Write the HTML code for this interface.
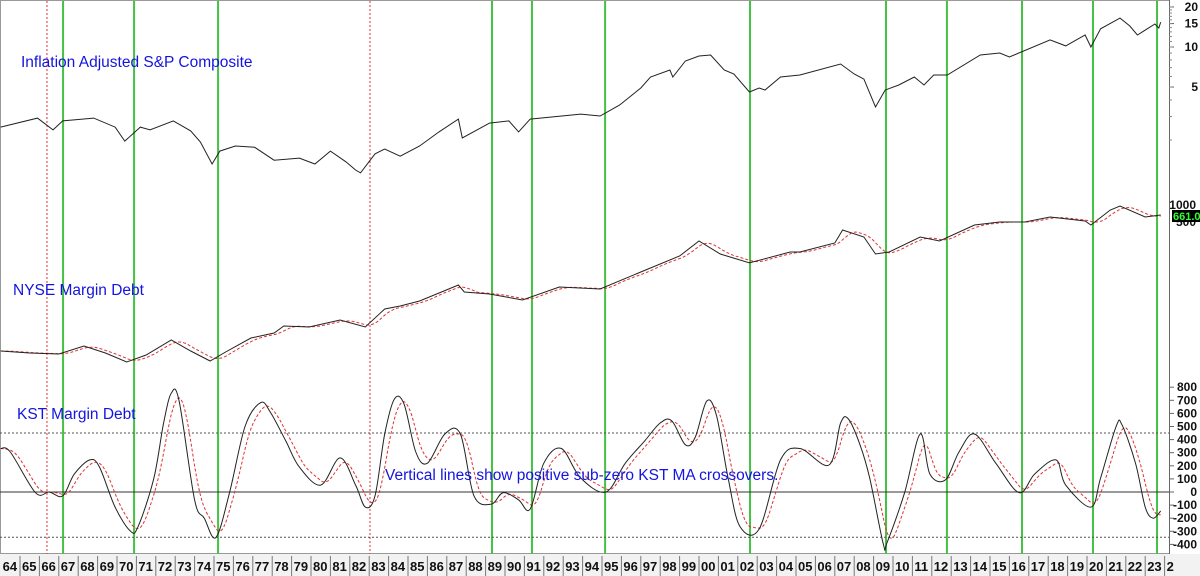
<!DOCTYPE html>
<html><head><meta charset="utf-8"><style>
body{margin:0;background:#fff;}
svg{display:block;font-family:"Liberation Sans",sans-serif;}
</style></head><body>
<svg id="c" width="1200" height="576">
<rect x="0" y="0" width="1200" height="576" fill="#fff"/>
<rect x="0.5" y="0.5" width="1169" height="553" fill="none" stroke="#999"/>
<rect x="0" y="554" width="1200" height="22" fill="#f2f2f2"/>
<g id="vl"></g><g id="ax"></g><g id="series"></g>
<text x="21" y="67" font-size="15.5" fill="#1414e0">Inflation Adjusted S&amp;P Composite</text>
<text x="13" y="295" font-size="15.5" fill="#1414e0">NYSE Margin Debt</text>
<text x="17" y="419" font-size="15.5" fill="#1414e0">KST Margin Debt</text>
<text x="385" y="480" font-size="15.5" fill="#1414e0">Vertical lines show positive sub-zero KST MA crossovers.</text>
</svg>
<script>
const spT=[1964,1965.9,1966.7,1967.2,1968.8,1969.9,1970.4,1971.2,1971.7,1972.9,1973.8,1974.3,1974.9,1975.3,1976.1,1977.1,1978.1,1979.4,1980.2,1981,1981.8,1982.3,1982.55,1983.3,1983.8,1984.6,1985.6,1986.6,1987.6,1987.8,1989.2,1990.2,1990.7,1991.3,1993.9,1994.9,1995.9,1997,1997.5,1998.5,1998.65,1999.3,2000,2000.6,2001.3,2001.8,2002.6,2003.1,2003.4,2004.2,2005.2,2007.3,2008,2008.5,2009.1,2009.6,2010.3,2011.1,2011.6,2012.1,2012.8,2014.5,2015.5,2016,2018.1,2018.9,2019.9,2020.2,2020.7,2021.7,2022.2,2022.6,2023.5,2023.7,2023.8];
const spV=[2.50,2.92,2.38,2.78,2.92,2.50,1.96,2.50,2.38,2.78,2.34,1.93,1.32,1.65,1.80,1.76,1.41,1.46,1.32,1.65,1.37,1.19,1.13,1.57,1.71,1.51,1.80,2.30,2.87,2.07,2.68,2.78,2.30,2.87,3.13,3.03,3.66,4.92,5.95,6.72,5.95,7.85,8.56,8.71,6.72,6.27,4.59,4.92,4.75,5.95,6.16,7.45,6.27,5.74,3.54,4.75,5.18,5.95,5.18,6.16,6.16,8.71,9.02,8.41,11.3,10.2,12.3,10,13.7,16.5,14.4,12.3,14.9,13.9,15.4];
const mdT=[1964,1965.5,1967,1968.3,1969.4,1970.5,1971.5,1972.8,1973.8,1974.8,1975.6,1976.9,1978.1,1978.6,1979.9,1981.5,1982.8,1983.8,1984.6,1985.6,1987.6,1987.9,1989.2,1990.9,1992.8,1994.9,1997,1999,2000,2001.1,2002.6,2004.7,2005.2,2007,2007.4,2008.5,2009.1,2009.8,2011.4,2012.4,2014.2,2015.5,2016.8,2018.1,2019.9,2020.2,2021.2,2021.7,2023,2023.8];
const mdV=[5.35,4.98,4.81,6.38,4.98,3.62,4.64,7.89,5.35,3.75,5.16,8.48,10.1,12.96,12.5,16.0,12.5,23.7,26.3,31.4,55.4,43.2,40.3,32.5,51.6,48.1,87.7,154.7,263,166,121,178,178,245,389,303,166,178,303,263,464,516,516,615,535,464,789,909,615,661];
const kT=[1964,1964.5,1965.8,1966.5,1967.2,1967.8,1968.6,1969.1,1969.9,1970.7,1971.1,1971.9,1972.4,1972.8,1973.2,1974,1974.5,1975.1,1975.8,1976.6,1977.4,1977.9,1978.7,1979.4,1980.5,1981.5,1982.3,1982.8,1983.3,1983.8,1984.3,1984.8,1985.4,1986,1986.9,1987.7,1988.4,1989.3,1989.9,1990.7,1991.3,1992,1992.9,1993.9,1995.2,1996.2,1997.2,1998,1998.6,1999.3,1999.8,2000.4,2000.9,2001.5,2002.1,2003.1,2004.2,2005.2,2006.7,2007.3,2007.7,2008.3,2008.8,2009.5,2009.7,2010.6,2011.4,2011.9,2012.7,2013.4,2014.2,2015.3,2016.5,2017.3,2018.4,2018.9,2020.2,2020.7,2021.5,2021.8,2022.5,2023,2023.4,2023.8];
const kV=[332,305,-5,0,-30,137,245,190,-115,-300,-260,107,527,755,695,-60,-200,-347,-5,500,682,610,390,190,53,260,53,-115,-30,443,710,670,305,220,443,443,-30,-92,-5,-60,-130,220,332,107,0,220,390,527,543,360,416,695,584,107,-260,-283,245,332,206,527,557,360,107,-397,-383,-5,443,137,92,305,443,220,-5,137,245,53,-115,107,500,514,220,-115,-200,-145];
const greenYears=[1967.22,1970.88,1975.21,1989.33,1991.39,1995.16,2002.63,2009.64,2012.78,2016.65,2020.31,2023.61];
const redYears=[1966.39,1983.04];
const yearLabels=["64","65","66","67","68","69","70","71","72","73","74","75","76","77","78","79","80","81","82","83","84","85","86","87","88","89","90","91","92","93","94","95","96","97","98","99","00","01","02","03","04","05","06","07","08","09","10","11","12","13","14","15","16","17","18","19","20","21","22","23","2"];
const spTicks=[20,15,10,5];
const mdTicks=[1000,500];
const kTicks=[800,700,600,500,400,300,200,100,0,-100,-200,-300,-400];
const kBands=[450,-345];

const NS="http://www.w3.org/2000/svg";
const X=t=>0.6+(t-1964)*19.4;
const Ysp=v=>47-133*Math.log10(v/10);
const Ymd=v=>215-65*Math.log10(v/661);
const Yk=v=>492-0.131*v;
function mk(tag,attrs,parent,text){const e=document.createElementNS(NS,tag);for(const k in attrs)e.setAttribute(k,attrs[k]);if(text!==undefined)e.textContent=text;parent.appendChild(e);return e;}
const vl=document.getElementById('vl'),ax=document.getElementById('ax'),sr=document.getElementById('series');
function interp(T,V,t){if(t<=T[0])return V[0];for(let i=1;i<T.length;i++){if(t<=T[i]){const f=(t-T[i-1])/(T[i]-T[i-1]);return V[i-1]+f*(V[i]-V[i-1]);}}return V[V.length-1];}
function ma(T,V,win,logv){const out=[];for(let t=T[0];t<=T[T.length-1];t+=0.05){let s=0,n=0;for(let u=t-win;u<=t;u+=0.05){let v=interp(T,V,Math.max(u,T[0]));s+=logv?Math.log(v):v;n++;}out.push([t,logv?Math.exp(s/n):s/n]);}return out;}
function smoothPath(pts){let d="M"+pts[0][0].toFixed(1)+","+pts[0][1].toFixed(1);for(let i=0;i<pts.length-1;i++){const p0=pts[i-1]||pts[i],p1=pts[i],p2=pts[i+1],p3=pts[i+2]||p2;const c1=[p1[0]+(p2[0]-p0[0])/6,p1[1]+(p2[1]-p0[1])/6],c2=[p2[0]-(p3[0]-p1[0])/6,p2[1]-(p3[1]-p1[1])/6];d+=`C${c1[0].toFixed(1)},${c1[1].toFixed(1)} ${c2[0].toFixed(1)},${c2[1].toFixed(1)} ${p2[0].toFixed(1)},${p2[1].toFixed(1)}`;}return d;}

redYears.forEach(t=>{const l=mk('line',{x1:X(t),x2:X(t),y1:1,y2:554,stroke:'#e03030','stroke-width':1,'stroke-dasharray':'2,2'},vl);

});
greenYears.forEach(t=>{const l=mk('line',{x1:X(t),x2:X(t),y1:1,y2:554,stroke:'#44c244','stroke-width':2},vl);

});

mk('line',{x1:1169.5,x2:1169.5,y1:0,y2:554,stroke:'#666'},ax);
spTicks.forEach(v=>{const y=Ysp(v);mk('line',{x1:1169,x2:1174,y1:y,y2:y,stroke:'#666'},ax);const t=mk('text',{x:1198,y:y+4,'text-anchor':'end','font-size':12,'font-weight':'bold',fill:'#111'},ax,String(v));

});
for(let v=2;v<=20;v+=1){const y=Ysp(v);if(y>0)mk('line',{x1:1169,x2:1172,y1:y,y2:y,stroke:'#888'},ax);}
const mdTickY=[209,226];
mdTicks.forEach((v,i)=>{const t=mk('text',{x:1196,y:mdTickY[i],'text-anchor':'end','font-size':12,'font-weight':'bold',fill:'#111'},ax,String(v));

});
const lb=mk('rect',{x:1172,y:210,width:28,height:12,fill:'#000'},ax);


mk('text',{x:1173,y:220,'font-size':11,'font-weight':'bold',fill:'#3f3'},ax,'661.00');
kTicks.forEach(v=>{const y=Yk(v);mk('line',{x1:1169,x2:1174,y1:y,y2:y,stroke:'#666'},ax);const t=mk('text',{x:1197,y:y+4,'text-anchor':'end','font-size':12,'font-weight':'bold',fill:'#111'},ax,String(v));

});
kBands.forEach(v=>{const l=mk('line',{x1:0,x2:1169,y1:Yk(v),y2:Yk(v),stroke:'#555','stroke-dasharray':'2,2'},ax);

});
const z=mk('line',{x1:0,x2:1169,y1:Yk(0),y2:Yk(0),stroke:'#333'},ax);


yearLabels.forEach((s,i)=>{const x=X(1964+i);if(i>0)mk('line',{x1:x,x2:x,y1:556,y2:576,stroke:'#777'},ax);const t=mk('text',{x:x+2,y:571,'font-size':13,'font-weight':'bold',fill:'#111'},ax,s);

});

let d=spT.map((t,i)=>(i?'L':'M')+X(t).toFixed(1)+','+Ysp(spV[i]).toFixed(1)).join('');
const sp=mk('path',{d:d,fill:'none',stroke:'#222','stroke-width':1},sr);


const mdMA=ma(mdT,mdV,0.8,true);
const m1=mk('path',{d:mdMA.map((p,i)=>(i?'L':'M')+X(p[0]).toFixed(1)+','+Ymd(p[1]).toFixed(1)).join(''),fill:'none',stroke:'#e03030','stroke-dasharray':'3,2'},sr);


const m2=mk('path',{d:mdT.map((t,i)=>(i?'L':'M')+X(t).toFixed(1)+','+Ymd(mdV[i]).toFixed(1)).join(''),fill:'none',stroke:'#222'},sr);


const kMA=ma(kT,kV,0.55,false);
const k1=mk('path',{d:smoothPath(kMA.filter((p,i)=>i%4==0).map(p=>[X(p[0]),Yk(p[1])])),fill:'none',stroke:'#e03030','stroke-dasharray':'3,2'},sr);


const k2=mk('path',{d:smoothPath(kT.map((t,i)=>[X(t),Yk(kV[i])])),fill:'none',stroke:'#222'},sr);


</script>
</body></html>
